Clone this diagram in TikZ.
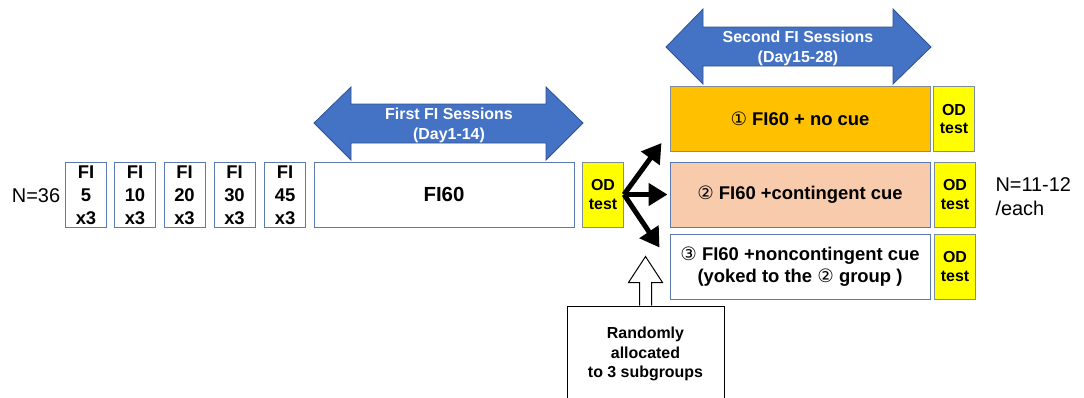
\documentclass[tikz,border=0pt]{standalone}
\usepackage{fontspec}
\setmainfont{Liberation Sans}
\newfontfamily\circfont{DejaVu Sans}
\usetikzlibrary{arrows.meta}
\definecolor{arrowblue}{HTML}{4472C4}
\definecolor{arrowedge}{HTML}{2F528F}
\definecolor{frameblue}{HTML}{5A7AB0}
\definecolor{framegrey}{HTML}{7F8C9C}
\definecolor{nocue}{HTML}{FFC000}
\definecolor{contcue}{HTML}{F8CBAD}
\definecolor{odyellow}{HTML}{FFFF00}
\tikzset{
  fibox/.style={draw=frameblue, line width=1bp, fill=white, inner sep=0pt,
    minimum width=41bp, minimum height=65bp, align=center,
    font=\bfseries\fontsize{18.5}{23}\selectfont},
  groupbox/.style={draw=frameblue, line width=1bp, inner sep=0pt,
    minimum width=260bp, minimum height=65bp, align=center,
    font=\bfseries\fontsize{18.5}{22}\selectfont},
  odbox/.style={draw=framegrey, line width=1bp, fill=odyellow, inner sep=0pt,
    minimum width=41bp, minimum height=65bp, align=center,
    font=\bfseries\fontsize{16}{18.5}\selectfont},
  blockarrow/.style={fill=arrowblue, draw=arrowedge, line width=0.8bp},
  arrowtext/.style={text=white, align=center,
    font=\bfseries\fontsize{16}{20}\selectfont},
  fanarrow/.style={line width=5bp, -{Triangle[length=19bp,width=22bp]}},
  hollowarrow/.style={draw=black, fill=white, line width=1bp},
  plaintext/.style={font=\fontsize{20}{24}\selectfont, align=left}
}
\newcommand{\circnum}[1]{{\circfont\mdseries #1}}
\begin{document}
\begin{tikzpicture}[x=1bp,y=-1bp]
\useasboundingbox (0,0) rectangle (1084,397);
% first FI sessions
\node[plaintext](n36) at (36,196) {N=36};
\node[fibox](fi5) at (86,195) {FI\\5\\x3};
\node[fibox](fi10) at (135,195) {FI\\10\\x3};
\node[fibox](fi20) at (184.5,195) {FI\\20\\x3};
\node[fibox](fi30) at (234.5,195) {FI\\30\\x3};
\node[fibox](fi45) at (285,195) {FI\\45\\x3};
\node[groupbox, fill=white, font=\bfseries\fontsize{20.5}{24}\selectfont](fi60) at (444,194.5) {FI60};
\node[odbox](od0) at (603,194.5) {OD\\test};
\draw[blockarrow] (314,123) -- (351,87) -- (351,104) -- (546,104) -- (546,87) -- (583,123)
  -- (546,160) -- (546,143) -- (351,143) -- (351,160) -- cycle;
\node[arrowtext](first) at (449,125) {First FI Sessions\\(Day1-14)};
% second FI sessions
\draw[blockarrow] (666,47) -- (703,9) -- (703,27) -- (893,27) -- (893,9) -- (931,47)
  -- (893,84) -- (893,66) -- (703,66) -- (703,84) -- cycle;
\node[arrowtext](second) at (798,48) {Second FI Sessions\\(Day15-28)};
\node[groupbox, fill=nocue, draw=framegrey](g1) at (800,119) {\circnum{①} FI60 + no cue};
\node[groupbox, fill=contcue](g2) at (800,194.5) {\circnum{②} FI60 +contingent cue};
\node[groupbox, fill=white](g3) at (800,266.5) {\circnum{③} FI60 +noncontingent cue\\(yoked to the \circnum{②} group )};
\node[odbox](od1) at (954,119) {OD\\test};
\node[odbox](od2) at (955,194.5) {OD\\test};
\node[odbox](od3) at (955,266.5) {OD\\test};
\node[plaintext, anchor=west](n11) at (992,197) {N=11-12\\/each};
% allocation
\coordinate[shift={(-8,-9)}] (t1) at (g1.south west);
\coordinate[shift={(-2,0)}] (t2) at (g2.west);
\coordinate[shift={(-10,14)}] (t3) at (g3.north west);
\draw[fanarrow] (od0.east) -- (t1);
\draw[fanarrow] (od0.east) -- (t2);
\draw[fanarrow] (od0.east) -- (t3);
\node[draw, line width=1bp, fill=white, inner sep=0pt, minimum width=157bp, minimum height=96bp,
  align=center, font=\bfseries\fontsize{16}{19.5}\selectfont](rand) at (645.5,354) {Randomly\\allocated\\to 3 subgroups};
\draw[hollowarrow] ([xshift=-6bp]rand.north) -- ++(0,-23) -- ++(-11,0) -- ++(17,-26)
  -- ++(17,26) -- ++(-11,0) -- ++(0,23);
\end{tikzpicture}
\end{document}
